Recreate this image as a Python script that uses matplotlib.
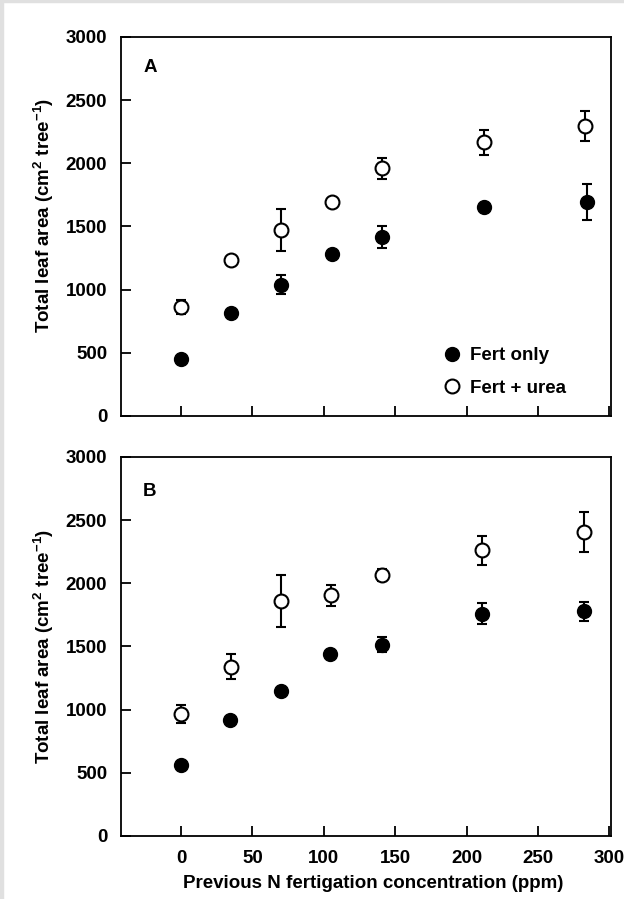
import numpy as np
import matplotlib
matplotlib.use('Agg')
import matplotlib.pyplot as plt
from matplotlib.patches import Rectangle

plt.rcParams['font.family'] = ['Liberation Sans', 'DejaVu Sans']
plt.rcParams['font.weight'] = 'bold'
plt.rcParams['mathtext.default'] = 'regular'

# Panel A
a_x_fert = np.array([0, 35, 70, 106, 141, 212, 284])
a_fert = np.array([454, 813, 1038, 1281, 1415, 1656, 1693])
a_fert_err = np.array([0, 0, 75, 0, 85, 0, 140])
a_x_urea = np.array([0, 35, 70, 106, 141, 212, 283])
a_urea = np.array([866, 1238, 1471, 1690, 1959, 2165, 2295])
a_urea_err = np.array([55, 0, 168, 0, 85, 98, 120])

# Panel B
b_x_fert = np.array([0, 34, 70, 104, 141, 211, 282])
b_fert = np.array([565, 915, 1145, 1438, 1515, 1760, 1780])
b_fert_err = np.array([0, 0, 0, 0, 60, 85, 75])
b_x_urea = np.array([0, 35, 70, 105, 141, 211, 282])
b_urea = np.array([965, 1340, 1860, 1905, 2065, 2260, 2405])
b_urea_err = np.array([70, 100, 205, 85, 50, 115, 160])

xticks = [0, 50, 100, 150, 200, 250, 300]
yticks = [0, 500, 1000, 1500, 2000, 2500, 3000]

fs = 13.5

fig = plt.figure(figsize=(6.24, 8.99), dpi=100)
fig.patches.append(Rectangle((0, 0), 3 / 624, 1, transform=fig.transFigure,
                             color='#e0e0e0', zorder=0))
fig.patches.append(Rectangle((0, 1 - 2 / 899), 1, 2 / 899, transform=fig.transFigure,
                             color='#e0e0e0', zorder=0))

axA = fig.add_axes([0.194, 0.5373, 0.785, 0.4216])
axB = fig.add_axes([0.194, 0.0701, 0.785, 0.4216])

panels = [
    (axA, 'A', 0.92, 0.53, a_x_fert, a_fert, a_fert_err, a_x_urea, a_urea, a_urea_err),
    (axB, 'B', 0.908, 0.5, b_x_fert, b_fert, b_fert_err, b_x_urea, b_urea, b_urea_err),
]

for ax, letter, ly, ylab_y, xf, yf, ef, xu, yu, eu in panels:
    ax.errorbar(xf, yf, yerr=ef, fmt='o', color='black', mfc='black', mec='black',
                ms=10, elinewidth=1.5, capsize=3.5, capthick=1.5, label='Fert only',
                zorder=3)
    ax.errorbar(xu, yu, yerr=eu, fmt='o', color='black', mfc='white', mec='black',
                mew=1.5, ms=10, elinewidth=1.5, capsize=3.5, capthick=1.5,
                label='Fert + urea', zorder=3)
    ax.set_xlim(-42, 301)
    ax.set_ylim(0, 3000)
    ax.set_xticks(xticks)
    ax.set_yticks(yticks)
    ax.tick_params(direction='in', length=7, width=1.3, labelsize=fs, pad=10)
    for s in ax.spines.values():
        s.set_linewidth(1.3)
    ax.set_ylabel('Total leaf area (cm$^{2}$ tree$^{-1}$)', fontsize=fs,
                  fontweight='bold', labelpad=7, y=ylab_y)
    ax.text(0.045, ly, letter, transform=ax.transAxes,
            fontsize=fs, fontweight='bold', va='center', ha='left')
    for lab in ax.get_xticklabels() + ax.get_yticklabels():
        lab.set_fontweight('bold')

axA.tick_params(labelbottom=False)
axB.set_xlabel('Previous N fertigation concentration (ppm)', fontsize=fs,
               fontweight='bold', labelpad=6, x=0.515)

handles, labels = axA.get_legend_handles_labels()
handles = [h[0] for h in handles]
axA.legend(handles, labels, loc='lower left', bbox_to_anchor=(0.634, 0.026),
           frameon=False, handletextpad=0.35, labelspacing=0.82,
           borderpad=0, handlelength=1.2, prop={'weight': 'bold', 'size': fs})

fig.savefig('out.png', dpi=100)
